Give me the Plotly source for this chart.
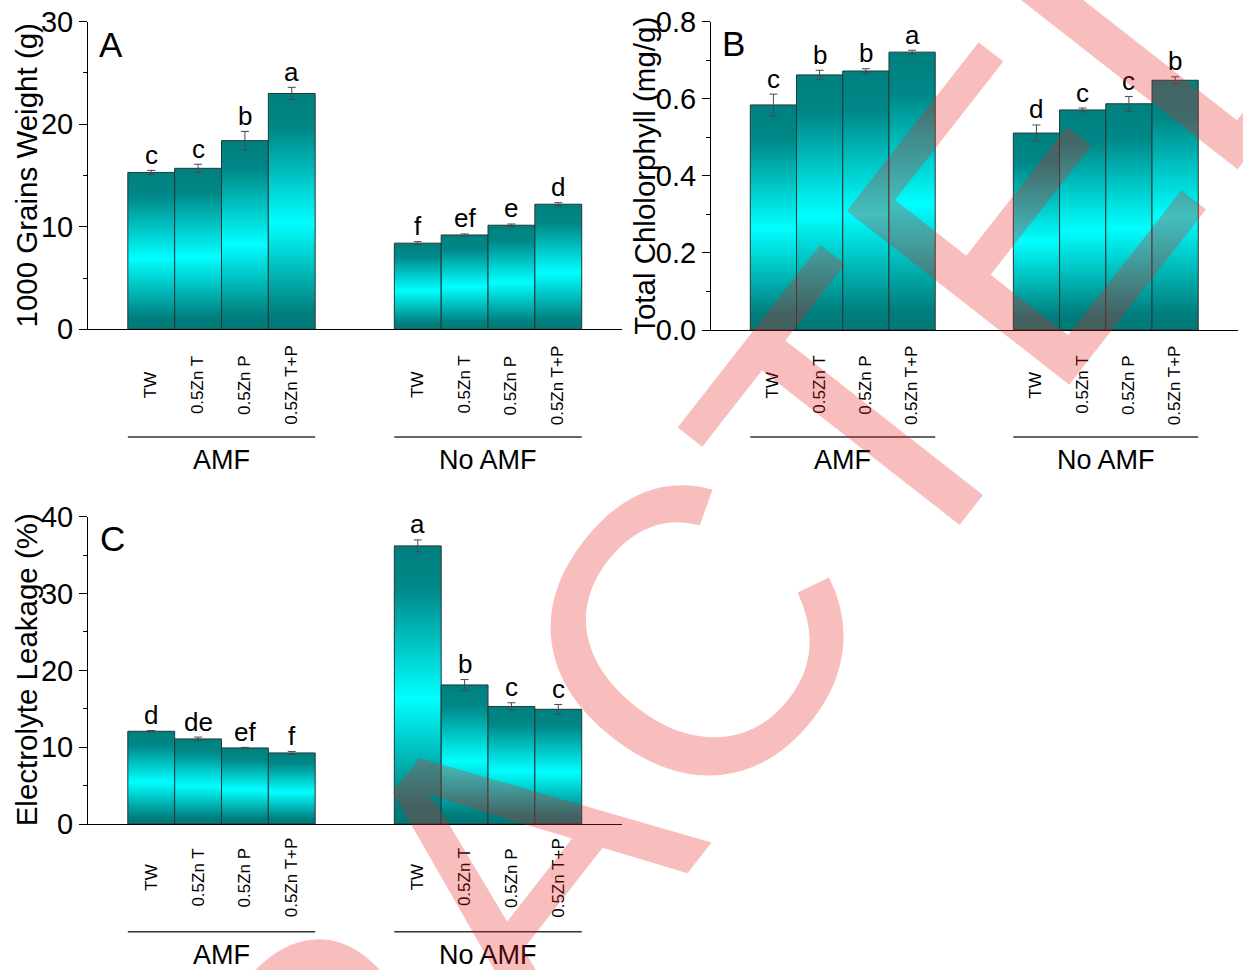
import plotly.graph_objects as go

W, H = 1243, 970

# ---------------- data ----------------
treatments = ["TW", "0.5Zn T", "0.5Zn P", "0.5Zn T+P"]
groups = ["AMF", "No AMF"]

grain_amf = [15.3, 15.7, 18.4, 23.0]
grain_amf_err = [0.2, 0.4, 0.9, 0.6]
grain_noamf = [8.4, 9.2, 10.15, 12.2]
grain_noamf_err = [0.15, 0.1, 0.12, 0.15]
grain_letters_amf = ["c", "c", "b", "a"]
grain_letters_noamf = ["f", "ef", "e", "d"]

chl_amf = [0.584, 0.662, 0.672, 0.721]
chl_amf_err = [0.028, 0.012, 0.006, 0.005]
chl_noamf = [0.511, 0.571, 0.587, 0.648]
chl_noamf_err = [0.021, 0.005, 0.019, 0.009]
chl_letters_amf = ["c", "b", "b", "a"]
chl_letters_noamf = ["d", "c", "c", "b"]

el_amf = [12.07, 11.07, 9.9, 9.25]
el_amf_err = [0.1, 0.24, 0.08, 0.2]
el_noamf = [36.2, 18.1, 15.3, 14.93]
el_noamf_err = [0.78, 0.7, 0.48, 0.63]
el_letters_amf = ["d", "de", "ef", "f"]
el_letters_noamf = ["a", "b", "c", "c"]

y_titles = ["1000 Grains Weight (g)", "Total Chlolorphyll (mg/g)", "Electrolyte Leakage (%)"]
panel_tags = ["A", "B", "C"]
watermark = "RETRACTED"

# ---------------- style / layout constants ----------------
FONT = "Liberation Sans, Arial, sans-serif"
GRAD = [[0.0, "#007977"], [0.07, "#007e7d"], [0.45, "#00ffff"],
        [0.85, "#008787"], [1.0, "#008080"]]
XRANGE = 11.4
GROUP_START = [1.35, 7.04]


def px_x(p):
    return p / W


def px_y(p):
    return 1 - p / H


panels = [
    dict(xa="x", ya="y", xdom=(88, 622), ydom=(329.3, 21.7), yrange=[0, 30], dtick=10,
         minor=5, fmt="", data=[(grain_amf, grain_amf_err, grain_letters_amf),
                                (grain_noamf, grain_noamf_err, grain_letters_noamf)],
         title_x=26, tag_xy=(97, 44.5), lab_y=385, line_y=437, grp_y=460),
    dict(xa="x2", ya="y2", xdom=(711, 1238), ydom=(330, 21.7), yrange=[0, 0.8], dtick=0.2,
         minor=0.1, fmt=".1f", data=[(chl_amf, chl_amf_err, chl_letters_amf),
                                     (chl_noamf, chl_noamf_err, chl_letters_noamf)],
         title_x=645, tag_xy=(720, 43.5), lab_y=385, line_y=437, grp_y=460),
    dict(xa="x3", ya="y3", xdom=(88, 622), ydom=(824, 516.7), yrange=[0, 40], dtick=10,
         minor=5, fmt="", data=[(el_amf, el_amf_err, el_letters_amf),
                                (el_noamf, el_noamf_err, el_letters_noamf)],
         title_x=26, tag_xy=(98, 538.5), lab_y=877.5, line_y=931.7, grp_y=955),
]

fig = go.Figure()
annotations = []
shapes = []
layout_axes = {}

for k, p in enumerate(panels):
    xa, ya = p["xa"], p["ya"]
    for g, (vals, errs, letters) in enumerate(p["data"]):
        centers = [GROUP_START[g] + i for i in range(len(vals))]
        for xc, v in zip(centers, vals):
            fig.add_trace(go.Scatter(
                x=[xc - 0.5, xc - 0.5, xc + 0.5, xc + 0.5, xc - 0.5],
                y=[0, v, v, 0, 0],
                mode="lines", fill="toself",
                fillgradient=dict(type="vertical", colorscale=GRAD),
                line=dict(color="#263636", width=1),
                xaxis=xa, yaxis=ya, showlegend=False, hoverinfo="skip"))
        fig.add_trace(go.Scatter(
            x=centers, y=vals, mode="markers",
            marker=dict(size=1, opacity=0),
            error_y=dict(type="data", array=errs, color="#4a4a4a", thickness=1, width=4),
            xaxis=xa, yaxis=ya, showlegend=False, hoverinfo="skip"))
        for xc, v, e, lt in zip(centers, vals, errs, letters):
            annotations.append(dict(x=xc, y=v + e, xref=xa, yref=ya, text=lt,
                                    showarrow=False, yanchor="bottom", yshift=-1.5,
                                    font=dict(family=FONT, size=26, color="black")))
        # category labels
        for xc, t in zip(centers, treatments):
            annotations.append(dict(x=xc, y=px_y(p["lab_y"]), xref=xa, yref="paper",
                                    text=t, textangle=-90, showarrow=False,
                                    xanchor="center", yanchor="middle",
                                    font=dict(family=FONT, size=17, color="black")))
        # group bracket line and label
        shapes.append(dict(type="line", xref=xa, yref="paper",
                           x0=centers[0] - 0.5, x1=centers[-1] + 0.5,
                           y0=px_y(p["line_y"]), y1=px_y(p["line_y"]),
                           line=dict(color="#333333", width=1.5)))
        annotations.append(dict(x=(centers[0] + centers[-1]) / 2, y=px_y(p["grp_y"]),
                                xref=xa, yref="paper", text=groups[g], showarrow=False,
                                xanchor="center", yanchor="middle",
                                font=dict(family=FONT, size=27, color="black")))

    # y title
    ymid = (p["ydom"][0] + p["ydom"][1]) / 2
    annotations.append(dict(x=px_x(p["title_x"]), y=px_y(ymid), xref="paper", yref="paper",
                            text=y_titles[k], textangle=-90, showarrow=False,
                            xanchor="center", yanchor="middle",
                            font=dict(family=FONT, size=29.5, color="black")))
    # panel tag
    annotations.append(dict(x=px_x(p["tag_xy"][0]), y=px_y(p["tag_xy"][1]),
                            xref="paper", yref="paper", text=panel_tags[k],
                            showarrow=False, xanchor="left", yanchor="middle",
                            font=dict(family=FONT, size=35, color="black")))

    xkey = "xaxis" if xa == "x" else "xaxis" + xa[1:]
    ykey = "yaxis" if ya == "y" else "yaxis" + ya[1:]
    layout_axes[xkey] = dict(domain=[px_x(p["xdom"][0]), px_x(p["xdom"][1])],
                             range=[0, XRANGE], showline=True, linecolor="black",
                             linewidth=1, ticks="", showticklabels=False,
                             showgrid=False, zeroline=False, anchor=ya,
                             automargin=False, fixedrange=True)
    layout_axes[ykey] = dict(domain=[px_y(p["ydom"][0]), px_y(p["ydom"][1])],
                             range=p["yrange"], dtick=p["dtick"], tick0=0,
                             tickformat=p["fmt"], showline=True, linecolor="black",
                             linewidth=1, ticks="outside", ticklen=8, tickwidth=1,
                             tickcolor="black",
                             minor=dict(ticks="outside", ticklen=4, dtick=p["minor"],
                                        tick0=0, tickcolor="black", tickwidth=1),
                             showgrid=False, zeroline=False, anchor=xa,
                             tickfont=dict(family=FONT, size=29, color="black"),
                             automargin=False, fixedrange=True)

# watermark stamp (overlaid on top of everything)
annotations.append(dict(x=px_x(516), y=px_y(862), xref="paper", yref="paper",
                        text=watermark, textangle=-52, showarrow=False,
                        xanchor="center", yanchor="middle",
                        font=dict(family=FONT, size=410, weight="normal",
                                  color="rgba(231,31,31,0.29)")))

fig.update_layout(
    template="none",
    width=W, height=H,
    margin=dict(l=0, r=0, t=0, b=0, pad=0),
    paper_bgcolor="white", plot_bgcolor="rgba(0,0,0,0)",
    showlegend=False,
    annotations=annotations,
    shapes=shapes,
    **layout_axes,
)

fig.write_html("out.html", config={"displayModeBar": False},
               post_script="document.body.style.margin='0px';")
